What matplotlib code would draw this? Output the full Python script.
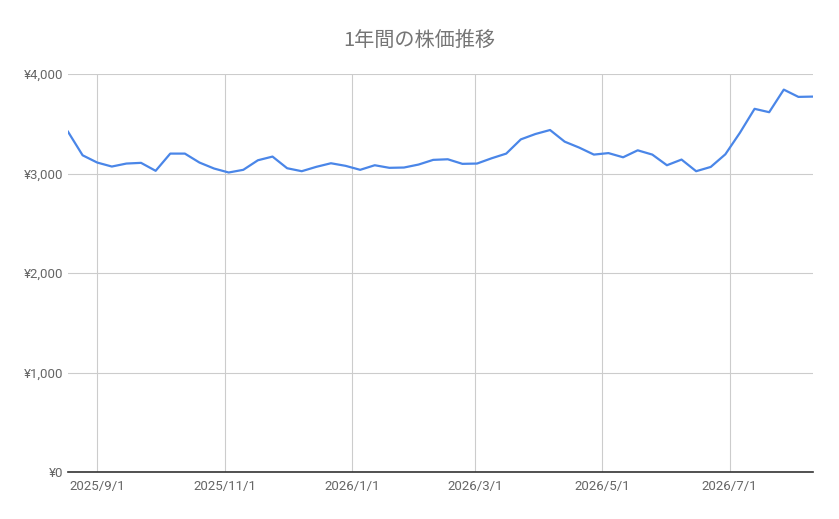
import matplotlib
matplotlib.use("Agg")
import matplotlib.pyplot as plt
import matplotlib.dates as mdates
from matplotlib.ticker import FuncFormatter
import numpy as np
import pandas as pd

# weekly closing prices, one year
start_date = "2025-08-18"
prices = [3420, 3183, 3110, 3070, 3100, 3107, 3027, 3200, 3200, 3110,
          3050, 3010, 3037, 3133, 3170, 3053, 3023, 3067, 3103, 3077,
          3037, 3083, 3057, 3060, 3090, 3137, 3143, 3097, 3100, 3153,
          3200, 3343, 3397, 3437, 3320, 3260, 3190, 3205, 3163, 3233,
          3190, 3083, 3140, 3023, 3066, 3193, 3410, 3650, 3616, 3843,
          3770, 3773]
dates = pd.date_range(start_date, periods=len(prices), freq="7D")

tick_dates = pd.to_datetime(["2025-09-01", "2025-11-01", "2026-01-01",
                             "2026-03-01", "2026-05-01", "2026-07-01"])
y_ticks = [0, 1000, 2000, 3000, 4000]
title = "1年間の株価推移"

plt.rcParams['font.family'] = ['Roboto', 'Noto Sans CJK JP', 'DejaVu Sans']

fig = plt.figure(figsize=(8.39, 5.19), dpi=100)
ax = fig.add_axes([68 / 839, 1 - 472 / 519, (813 - 68) / 839, (472 - 74) / 519])

ax.plot(dates, prices, color='#4a86e8', linewidth=1.6, solid_joinstyle='round')

ax.set_xlim(dates[0], dates[-1])
ax.set_ylim(0, 4000)
ax.set_xticks(tick_dates)
ax.xaxis.set_major_formatter(FuncFormatter(
    lambda v, p: "{0.year}/{0.month}/{0.day}".format(mdates.num2date(v))))
ax.set_yticks(y_ticks)
ax.yaxis.set_major_formatter(FuncFormatter(lambda v, p: "¥{:,.0f}".format(v)))

ax.grid(True, color='#cccccc', linewidth=0.8)
ax.set_axisbelow(True)
for s in ['top', 'right', 'left']:
    ax.spines[s].set_visible(False)
ax.spines['bottom'].set_color('#333333')
ax.spines['bottom'].set_linewidth(1.2)
ax.spines['bottom'].set_zorder(3)
ax.tick_params(length=0, labelsize=9.5, colors='#666666')
ax.tick_params(axis='x', pad=6)
ax.tick_params(axis='y', pad=3.5)

fig.text(0.5, 1 - 40 / 519, title, ha='center', va='center', fontsize=14.5,
         color='#757575', family=['Noto Sans CJK JP', 'DejaVu Sans'])

fig.savefig("out.png", dpi=100)
